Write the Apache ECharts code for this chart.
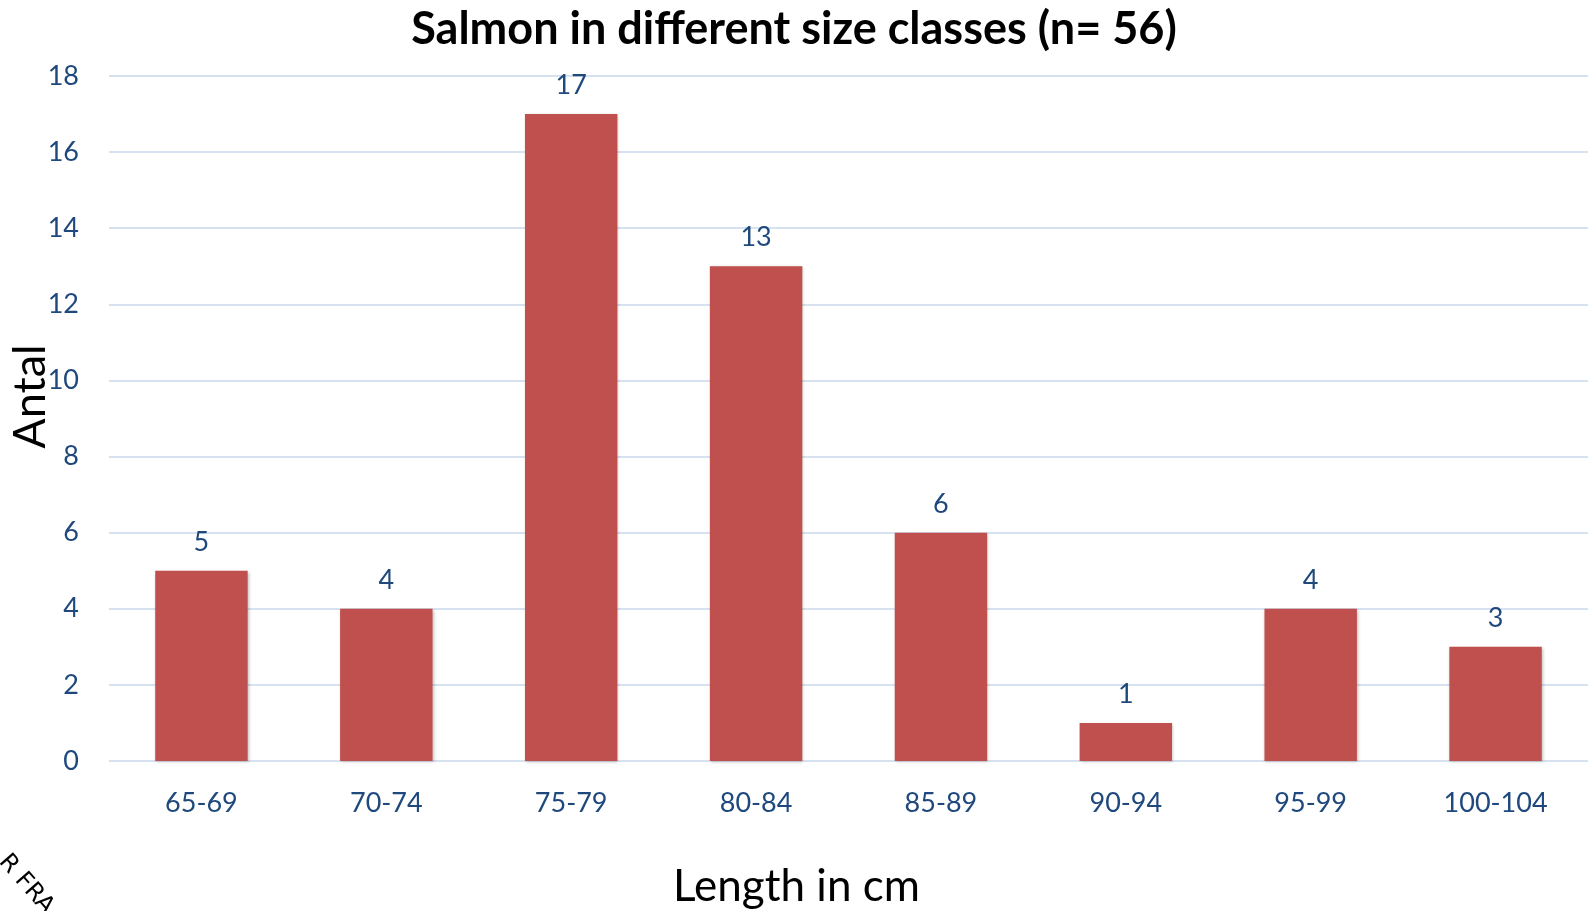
<!DOCTYPE html>
<html>
<head>
<meta charset="utf-8">
<script src="https://cdn.jsdelivr.net/npm/echarts@6/dist/echarts.min.js"></script>
<style>
html,body{margin:0;padding:0;background:#fff;}
#main{width:1589px;height:911px;}
</style>
</head>
<body>
<div id="main"></div>
<script>
var categories = ['65-69', '70-74', '75-79', '80-84', '85-89', '90-94', '95-99', '100-104'];
var counts = [5, 4, 17, 13, 6, 1, 4, 3];
var yTicks = [0, 2, 4, 6, 8, 10, 12, 14, 16, 18];

var blue = '#1F497D';
var font = 'Lato, "Noto Sans", sans-serif';

var option = {
    animation: false,
    backgroundColor: '#fff',
    title: {
        text: 'Salmon in different size classes (n= 56)',
        left: 789,
        textAlign: 'center',
        top: 2,
        textStyle: {fontFamily: font, fontSize: 45, fontWeight: 'bold', color: '#000'}
    },
    grid: {left: 109, right: 1, top: 76, bottom: 150, outerBoundsMode: 'none'},
    xAxis: {
        type: 'category',
        data: categories,
        name: 'Length in cm',
        nameLocation: 'middle',
        nameGap: 104,
        nameMoveOverlap: false,
        nameTextStyle: {fontFamily: font, fontSize: 44, color: '#000', padding: [0, 104, 0, 0]},
        axisLine: {show: false},
        axisTick: {show: false},
        axisLabel: {fontFamily: font, fontSize: 27, color: blue, margin: 29}
    },
    yAxis: {
        type: 'value',
        min: yTicks[0],
        max: yTicks[yTicks.length - 1],
        interval: 2,
        name: 'Antal',
        nameLocation: 'middle',
        nameGap: 56,
        nameMoveOverlap: false,
        nameTextStyle: {fontFamily: font, fontSize: 45, color: '#000', padding: [0, 0, 0, 44]},
        axisLabel: {fontFamily: font, fontSize: 27, color: blue, margin: 30},
        splitLine: {lineStyle: {color: '#D6E2F0', width: 2}}
    },
    series: [{
        type: 'bar',
        data: counts,
        barWidth: '50%',
        itemStyle: {color: '#C0504D', shadowColor: 'rgba(0,0,0,0.25)', shadowBlur: 3, shadowOffsetX: 1, shadowOffsetY: 1},
        label: {
            show: true,
            position: 'top',
            distance: 15,
            fontFamily: font,
            fontSize: 27,
            color: blue
        }
    }],
    graphic: [{
        type: 'text',
        left: -6,
        top: 850,
        rotation: -0.85,
        style: {text: 'R FRA', font: '24px "DejaVu Sans", sans-serif', fill: '#000'}
    }]
};

var myChart = echarts.init(document.getElementById('main'));
myChart.setOption(option);
</script>
</body>
</html>
